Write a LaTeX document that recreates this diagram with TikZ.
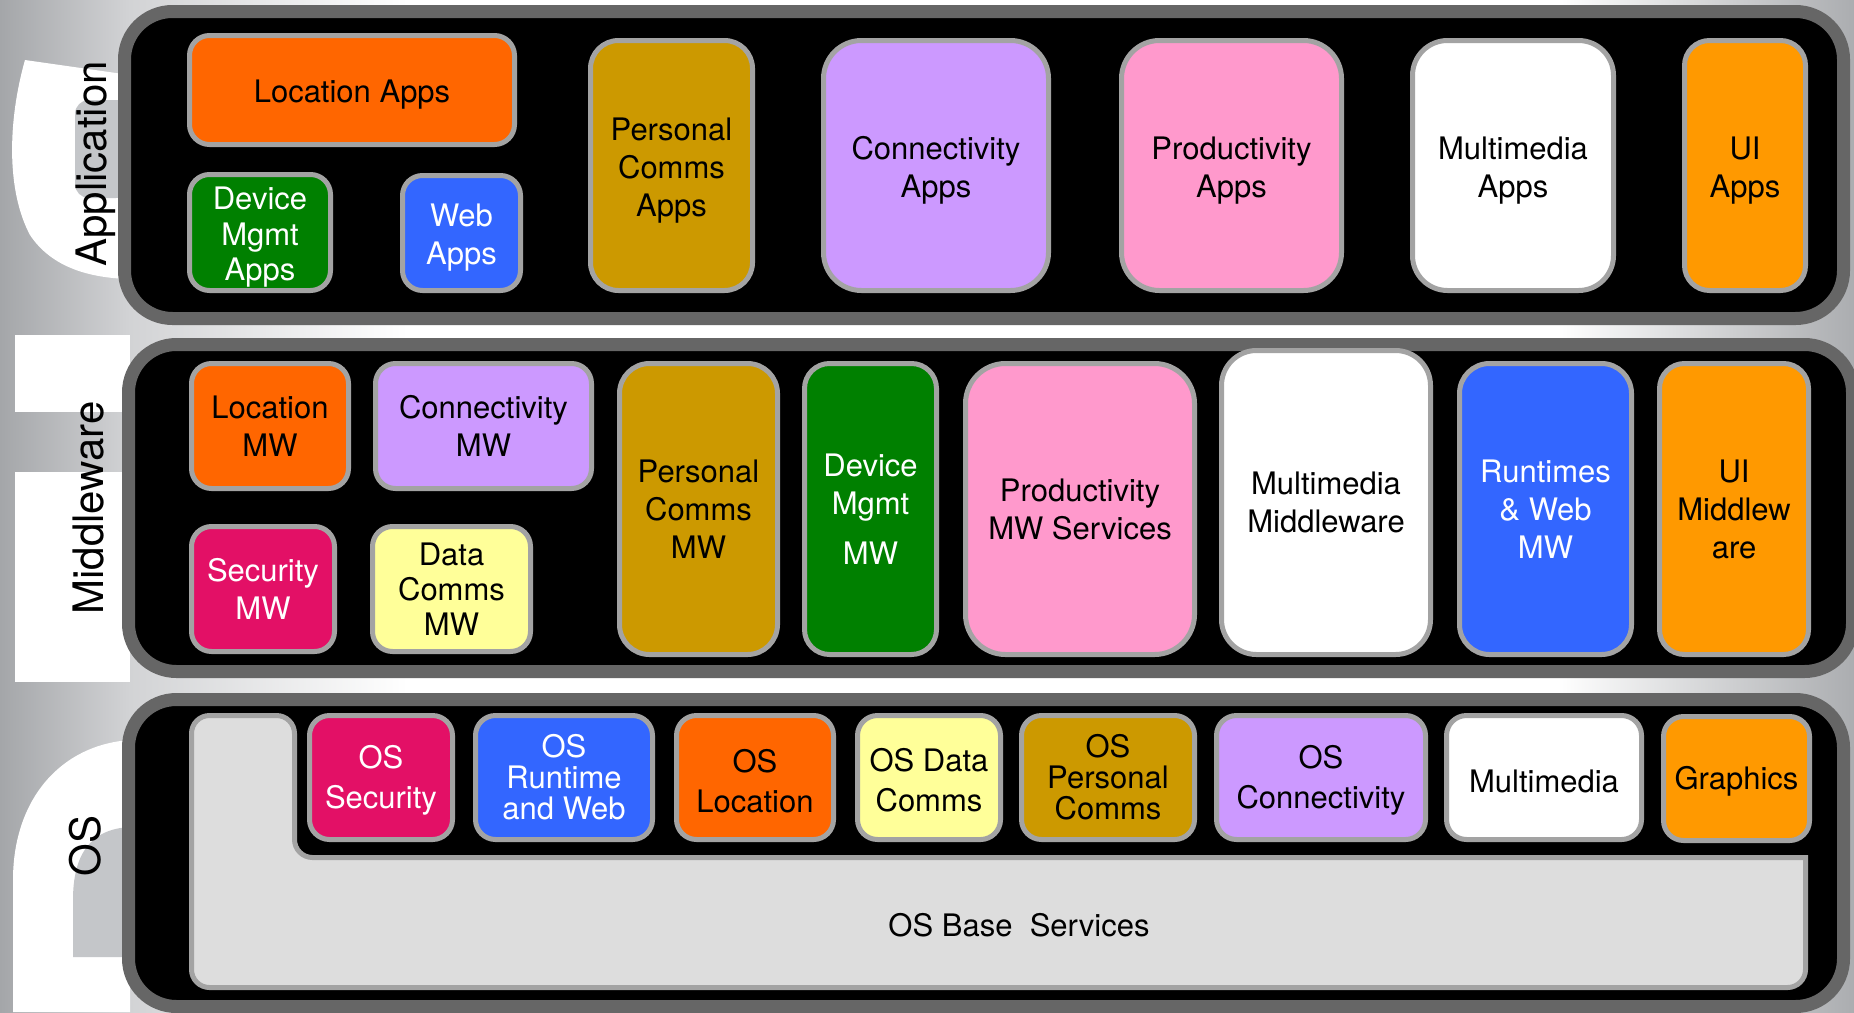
\documentclass[tikz,border=0pt]{standalone}
\usepackage{fontspec}
\setmainfont{TeX Gyre Heros}
\definecolor{bgA}{HTML}{A4A6A9}
\definecolor{bgB}{HTML}{D2D3D5}
\definecolor{bgC}{HTML}{ABADB0}
\definecolor{holegrey}{HTML}{C4C6C9}
\definecolor{panelgrey}{HTML}{666666}
\definecolor{bordergrey}{HTML}{A3A3A3}
\definecolor{cOrange}{HTML}{FF6600}
\definecolor{cGreen}{HTML}{008000}
\definecolor{cBlue}{HTML}{3366FF}
\definecolor{cGold}{HTML}{CC9900}
\definecolor{cLav}{HTML}{CC99FF}
\definecolor{cPink}{HTML}{FF99CC}
\definecolor{cUI}{HTML}{FF9900}
\definecolor{cCrimson}{HTML}{E31066}
\definecolor{cYellow}{HTML}{FFFF99}
\definecolor{cBase}{HTML}{DDDDDD}
\pgfdeclarehorizontalshading{bgshade}{100bp}{color(0bp)=(bgA); color(25bp)=(bgA); color(28.5bp)=(bgB); color(36bp)=(white); color(67bp)=(white); color(75bp)=(bgC); color(100bp)=(bgC)}
\newcommand\mkbox[7][]{%
  \pgfmathsetmacro\mkcx{(#3+#5)/2}%
  \pgfmathsetmacro\mkcy{(#4+#6)/2}%
  \pgfmathsetmacro\mkbw{#5-#3-5}%
  \pgfmathsetmacro\mkbh{#6-#4-5}%
  \node[box,minimum width=\mkbw pt,minimum height=\mkbh pt,#1] (#2) at (\mkcx,\mkcy) {#7};}
% invisible struts that lower the text a little inside a box
\newcommand\tsA{\rule{0pt}{32.5pt}}
\newcommand\tsO{\rule{0pt}{29.5pt}}
\begin{document}
\begin{tikzpicture}[x=1pt,y=-1pt,
  box/.style={draw=bordergrey,line width=5pt,rounded corners=20pt,align=center,inner sep=0pt,
    font=\fontsize{31}{38}\selectfont,text=black},
  wtext/.style={text=white},
  panel/.style={fill=black,draw=panelgrey,line width=13pt,rounded corners=48pt},
  layerlabel/.style={rotate=90,anchor=base,font=\fontsize{42}{50}\selectfont,inner sep=0pt},
  whiteshape/.style={fill=white},
  holeshape/.style={fill=holegrey}]
\useasboundingbox (0,0) rectangle (1854,1012);
\clip (0,0) rectangle (1854,1012);
% background
\shade[shading=bgshade] (0,0) rectangle (1854,1012);
% white decorative shapes on the left
\path[whiteshape] (130,75) -- (25,60) .. controls (8,120) and (6,190) .. (30,235)
   .. controls (50,265) and (85,278) .. (130,279) -- cycle;
\path[holeshape,rounded corners=14pt] (75,100) rectangle (130,198);
\path[whiteshape] (15,335) rectangle (130,412);
\path[whiteshape] (15,472) rectangle (130,682);
\path[whiteshape] (130,740) .. controls (60,745) and (13,800) .. (13,880) -- (13,1012) -- (130,1012) -- cycle;
\path[holeshape] (130,827) .. controls (90,829) and (73,855) .. (73,900) -- (73,957) -- (130,957) -- cycle;
% panels
\draw[panel] (124.5,11.5) rectangle (1843.5,318.5);
\draw[panel] (128.5,344.5) rectangle (1852.5,671.5);
\draw[panel] (128.5,699.5) rectangle (1843.5,1006.5);
% layer labels
\node[layerlabel] (lapp) at (106,164) {Application};
\node[layerlabel] (lmw) at (103,508) {Middleware};
\node[layerlabel] (los) at (100,846) {OS};
% Application layer
\mkbox[fill=cOrange]{locapps}{187}{33}{517}{147}{\tsA Location Apps}
\mkbox[fill=cGreen,wtext]{devapps}{187}{172}{333}{293}{\tsA Device\\[-2.5pt]Mgmt\\[-2.5pt]Apps}
\mkbox[fill=cBlue,wtext]{webapps}{400}{173}{523}{293}{\tsA Web\\Apps}
\mkbox[fill=cGold,rounded corners=28pt]{pcapps}{588}{38}{755}{293}{\tsA Personal\\Comms\\Apps}
\mkbox[fill=cLav,rounded corners=38pt]{conapps}{821}{38}{1051}{293}{\tsA Connectivity\\Apps}
\mkbox[fill=cPink,rounded corners=38pt]{prodapps}{1119}{38}{1344}{293}{\tsA Productivity\\Apps}
\mkbox[fill=white,rounded corners=35pt]{mmapps}{1410}{38}{1616}{293}{\tsA Multimedia\\Apps}
\mkbox[fill=cUI,rounded corners=25pt]{uiapps}{1682}{38}{1808}{293}{\tsA UI\\Apps}
% Middleware layer
\mkbox[fill=cOrange]{locmw}{189}{361}{351}{491}{Location\\MW}
\mkbox[fill=cLav]{conmw}{373}{361}{594}{491}{Connectivity\\MW}
\mkbox[fill=cCrimson,wtext]{secmw}{189}{524}{337}{654}{Security\\MW}
\mkbox[fill=cYellow]{datamw}{370}{524}{533}{654}{Data\\[-3pt]Comms\\[-3pt]MW}
\mkbox[fill=cGold,rounded corners=30pt]{pcmw}{617}{361}{780}{657}{Personal\\Comms\\MW}
\mkbox[fill=cGreen,wtext,rounded corners=25pt]{devmw}{802}{361}{939}{657}{Device\\Mgmt\\[12pt]MW}
\mkbox[fill=cPink,rounded corners=40pt]{prodmw}{963}{361}{1197}{657}{Productivity\\MW Services}
\mkbox[fill=white,rounded corners=35pt]{mmmw}{1219}{348}{1433}{657}{Multimedia\\Middleware}
\mkbox[fill=cBlue,wtext,rounded corners=30pt]{rtmw}{1457}{361}{1634}{657}{Runtimes\\\& Web\\MW}
\mkbox[fill=cUI,rounded corners=25pt]{uimw}{1657}{361}{1811}{657}{UI\\Middlew\\are}
% OS layer
\draw[draw=bordergrey,fill=cBase,line width=5pt] (191.5,850) [rounded corners=18pt] -- (191.5,715.5) -- (294.5,715.5) -- (294.5,857.5) [sharp corners] -- (1805.5,857.5) [rounded corners=18pt] -- (1805.5,987.5) -- (191.5,987.5) -- cycle;
\node[font=\fontsize{31}{38}\selectfont,inner sep=0pt] (base) at (1019,925) {OS Base\ \ Services};
\mkbox[fill=cCrimson,wtext]{ossec}{307}{713}{455}{842}{\tsO OS\\[2pt]Security}
\mkbox[fill=cBlue,wtext]{osrt}{473}{713}{655}{842}{OS\\[-7pt]Runtime\\[-7pt]and Web}
\mkbox[fill=cOrange]{osloc}{674}{713}{836}{842}{\tsO OS\\[2pt]Location}
\mkbox[fill=cYellow]{osdata}{855}{713}{1003}{842}{\tsO OS Data\\[2pt]Comms}
\mkbox[fill=cGold]{ospc}{1019}{713}{1197}{842}{OS\\[-7pt]Personal\\[-7pt]Comms}
\mkbox[fill=cLav]{oscon}{1214}{713}{1428}{842}{\tsO OS\\[2pt]Connectivity}
\mkbox[fill=white]{osmm}{1444}{713}{1644}{842}{\tsO Multimedia}
\mkbox[fill=cUI]{osgfx}{1661}{714}{1812}{843}{\tsO Graphics}
\end{tikzpicture}
\end{document}
